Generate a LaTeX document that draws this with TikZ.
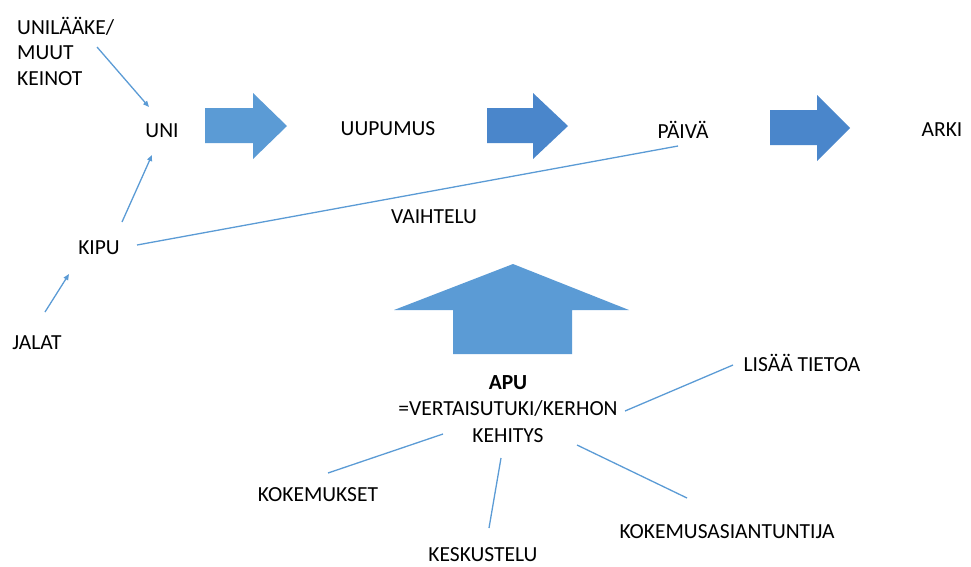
\documentclass[tikz,border=0pt]{standalone}
\usepackage{fontspec}
\setmainfont{Carlito}
\usetikzlibrary{arrows.meta}
\definecolor{lightblue}{HTML}{5B9BD5}
\definecolor{darkblue}{HTML}{4A86CB}
\begin{document}
\begin{tikzpicture}[x=1pt,y=-1pt,
  lbl/.style={font=\fontsize{21.5}{25.5}\selectfont, inner sep=0pt, text=black},
  conn/.style={draw=lightblue, line width=1.3pt},
  arr/.style={conn, -{Triangle[length=6pt,width=5pt]}},
  blockl/.style={fill=lightblue},
  blockd/.style={fill=darkblue}]
\useasboundingbox (0,0) rectangle (971,566);
% labels
\node[lbl, align=left, anchor=west] (unilaake) at (17,51) {UNILÄÄKE/\\MUUT\\KEINOT};
\node[lbl] (uni) at (162,131) {UNI};
\node[lbl] (uupumus) at (388,129) {UUPUMUS};
\node[lbl] (paiva) at (683,130) {PÄIVÄ};
\node[lbl] (arki) at (942,130) {ARKI};
\node[lbl] (kipu) at (99,248) {KIPU};
\node[lbl] (jalat) at (37,343) {JALAT};
\node[lbl] (vaihtelu) at (434,217) {VAIHTELU};
\node[lbl, align=center, font=\fontsize{21.5}{26.5}\selectfont] (apu) at (508,409) {\textbf{APU}\\=VERTAISUTUKI/KERHON\\KEHITYS};
\node[lbl] (lisaa) at (802,363) {LISÄÄ TIETOA};
\node[lbl] (kokemukset) at (318,495) {KOKEMUKSET};
\node[lbl] (keskustelu) at (483,555) {KESKUSTELU};
\node[lbl] (kokas) at (727,532) {KOKEMUSASIANTUNTIJA};
% block arrows
\fill[blockl] (205,108) -- (253,108) -- (253,93) -- (287,126) -- (253,159) -- (253,143) -- (205,143) -- cycle;
\fill[blockd] (487,108) -- (533,108) -- (533,93) -- (568,126) -- (533,159) -- (533,143) -- (487,143) -- cycle;
\fill[blockd] (770,110) -- (817,110) -- (817,95) -- (850,128) -- (817,161) -- (817,145) -- (770,145) -- cycle;
\fill[blockl] (513,264) -- (629,310) -- (572,310) -- (572,354) -- (453,354) -- (453,310) -- (394,310) -- cycle;
% connector end points
\coordinate (c1a) at (97,47);  \coordinate (c1b) at (149,107);
\coordinate (c2a) at (122,222); \coordinate (c2b) at (152,155);
\coordinate (c3a) at (45,312);  \coordinate (c3b) at (69,274);
\coordinate (c4a) at (137,245); \coordinate (c4b) at (678,146);
\coordinate (c5a) at (625,411); \coordinate (c5b) at (733,365);
\coordinate (c6a) at (443,434); \coordinate (c6b) at (328,473);
\coordinate (c7a) at (501,458); \coordinate (c7b) at (489,528);
\coordinate (c8a) at (577,445); \coordinate (c8b) at (687,498);
% connectors
\draw[arr] (c1a) -- (c1b);
\draw[arr] (c2a) -- (c2b);
\draw[arr] (c3a) -- (c3b);
\draw[conn] (c4a) -- (c4b);
\draw[conn] (c5a) -- (c5b);
\draw[conn] (c6a) -- (c6b);
\draw[conn] (c7a) -- (c7b);
\draw[conn] (c8a) -- (c8b);
\end{tikzpicture}
\end{document}
